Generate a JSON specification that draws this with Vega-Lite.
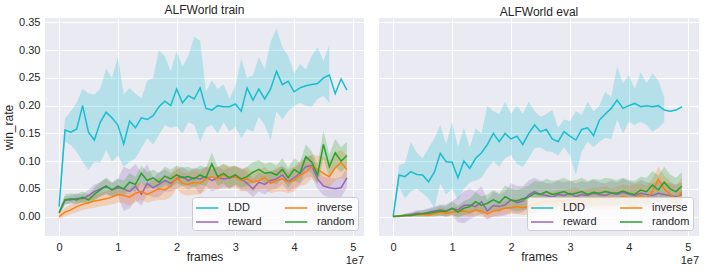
{
"$schema": "https://vega.github.io/schema/vega-lite/v6.json",
"background": "white",
"padding": {"left": 2, "right": 5, "top": 4, "bottom": 2},
"config": {
  "font": "Liberation Sans",
  "view": {"fill": "#EAEAF2", "stroke": null},
  "axis": {"grid": true, "gridColor": "white", "gridWidth": 1, "domain": false, "ticks": false, "labelFontSize": 11, "labelColor": "#262626", "titleFontSize": 12, "titleFontWeight": "normal", "titleColor": "#262626", "labelFlush": false, "labelOverlap": false},
  "axisX": {"tickCount": 6, "labelPadding": 5, "titlePadding": -1},
  "axisY": {"tickCount": 8, "labelPadding": 5, "titlePadding": 3},
  "title": {"fontSize": 12, "fontWeight": "normal", "color": "#262626", "offset": -1},
  "legend": {"labelFontSize": 11, "labelColor": "#262626", "title": null, "orient": "bottom-right", "columns": 2, "symbolType": "M-1,0L2.2,0", "symbolStrokeWidth": 1.5, "symbolSize": 196, "symbolOpacity": 1, "fillColor": "rgba(255,255,255,0.8)", "strokeColor": "#cccccc", "cornerRadius": 3, "padding": 3, "columnPadding": 20, "rowPadding": 1, "offset": 6, "labelOffset": 17}
},
"datasets": {
"train": [
{"method":"LDD","frames":0,"win_rate":0.018,"lo":0.012,"hi":0.025},
{"method":"LDD","frames":1000000,"win_rate":0.156,"lo":0.135,"hi":0.177},
{"method":"LDD","frames":2000000,"win_rate":0.152,"lo":0.129,"hi":0.19},
{"method":"LDD","frames":3000000,"win_rate":0.158,"lo":0.117,"hi":0.205},
{"method":"LDD","frames":4000000,"win_rate":0.2,"lo":0.099,"hi":0.231},
{"method":"LDD","frames":5000000,"win_rate":0.152,"lo":0.084,"hi":0.222},
{"method":"LDD","frames":6000000,"win_rate":0.138,"lo":0.099,"hi":0.22},
{"method":"LDD","frames":7000000,"win_rate":0.17,"lo":0.097,"hi":0.23},
{"method":"LDD","frames":8000000,"win_rate":0.188,"lo":0.12,"hi":0.267},
{"method":"LDD","frames":9000000,"win_rate":0.178,"lo":0.099,"hi":0.25},
{"method":"LDD","frames":10000000,"win_rate":0.165,"lo":0.11,"hi":0.288},
{"method":"LDD","frames":11000000,"win_rate":0.131,"lo":0.09,"hi":0.22},
{"method":"LDD","frames":12000000,"win_rate":0.172,"lo":0.099,"hi":0.232},
{"method":"LDD","frames":13000000,"win_rate":0.16,"lo":0.105,"hi":0.222},
{"method":"LDD","frames":14000000,"win_rate":0.178,"lo":0.123,"hi":0.213},
{"method":"LDD","frames":15000000,"win_rate":0.175,"lo":0.141,"hi":0.245},
{"method":"LDD","frames":16000000,"win_rate":0.182,"lo":0.13,"hi":0.25},
{"method":"LDD","frames":17000000,"win_rate":0.198,"lo":0.147,"hi":0.3},
{"method":"LDD","frames":18000000,"win_rate":0.208,"lo":0.165,"hi":0.289},
{"method":"LDD","frames":19000000,"win_rate":0.2,"lo":0.16,"hi":0.262},
{"method":"LDD","frames":20000000,"win_rate":0.23,"lo":0.163,"hi":0.298},
{"method":"LDD","frames":21000000,"win_rate":0.205,"lo":0.15,"hi":0.27},
{"method":"LDD","frames":22000000,"win_rate":0.218,"lo":0.17,"hi":0.29},
{"method":"LDD","frames":23000000,"win_rate":0.212,"lo":0.165,"hi":0.324},
{"method":"LDD","frames":24000000,"win_rate":0.232,"lo":0.135,"hi":0.317},
{"method":"LDD","frames":25000000,"win_rate":0.195,"lo":0.16,"hi":0.225},
{"method":"LDD","frames":26000000,"win_rate":0.192,"lo":0.165,"hi":0.246},
{"method":"LDD","frames":27000000,"win_rate":0.2,"lo":0.15,"hi":0.23},
{"method":"LDD","frames":28000000,"win_rate":0.198,"lo":0.17,"hi":0.238},
{"method":"LDD","frames":29000000,"win_rate":0.198,"lo":0.153,"hi":0.213},
{"method":"LDD","frames":30000000,"win_rate":0.203,"lo":0.162,"hi":0.235},
{"method":"LDD","frames":31000000,"win_rate":0.19,"lo":0.141,"hi":0.285},
{"method":"LDD","frames":32000000,"win_rate":0.232,"lo":0.158,"hi":0.25},
{"method":"LDD","frames":33000000,"win_rate":0.21,"lo":0.153,"hi":0.255},
{"method":"LDD","frames":34000000,"win_rate":0.23,"lo":0.18,"hi":0.288},
{"method":"LDD","frames":35000000,"win_rate":0.212,"lo":0.165,"hi":0.265},
{"method":"LDD","frames":36000000,"win_rate":0.23,"lo":0.138,"hi":0.315},
{"method":"LDD","frames":37000000,"win_rate":0.262,"lo":0.19,"hi":0.339},
{"method":"LDD","frames":38000000,"win_rate":0.238,"lo":0.175,"hi":0.305},
{"method":"LDD","frames":39000000,"win_rate":0.244,"lo":0.19,"hi":0.29},
{"method":"LDD","frames":40000000,"win_rate":0.225,"lo":0.2,"hi":0.258},
{"method":"LDD","frames":41000000,"win_rate":0.232,"lo":0.205,"hi":0.275},
{"method":"LDD","frames":42000000,"win_rate":0.236,"lo":0.2,"hi":0.265},
{"method":"LDD","frames":43000000,"win_rate":0.238,"lo":0.198,"hi":0.29},
{"method":"LDD","frames":44000000,"win_rate":0.24,"lo":0.212,"hi":0.305},
{"method":"LDD","frames":45000000,"win_rate":0.25,"lo":0.218,"hi":0.28},
{"method":"LDD","frames":46000000,"win_rate":0.255,"lo":0.205,"hi":0.31},
{"method":"LDD","frames":47000000,"win_rate":0.222,"lo":null,"hi":null},
{"method":"LDD","frames":48000000,"win_rate":0.248,"lo":null,"hi":null},
{"method":"LDD","frames":49000000,"win_rate":0.228,"lo":null,"hi":null},
{"method":"reward","frames":0,"win_rate":0.007,"lo":0.003,"hi":0.012},
{"method":"reward","frames":1000000,"win_rate":0.03,"lo":0.022,"hi":0.036},
{"method":"reward","frames":2000000,"win_rate":0.03,"lo":0.024,"hi":0.038},
{"method":"reward","frames":3000000,"win_rate":0.033,"lo":0.026,"hi":0.042},
{"method":"reward","frames":4000000,"win_rate":0.032,"lo":0.025,"hi":0.04},
{"method":"reward","frames":5000000,"win_rate":0.038,"lo":0.028,"hi":0.048},
{"method":"reward","frames":6000000,"win_rate":0.045,"lo":0.03,"hi":0.058},
{"method":"reward","frames":7000000,"win_rate":0.05,"lo":0.036,"hi":0.062},
{"method":"reward","frames":8000000,"win_rate":0.055,"lo":0.04,"hi":0.068},
{"method":"reward","frames":9000000,"win_rate":0.048,"lo":0.035,"hi":0.06},
{"method":"reward","frames":10000000,"win_rate":0.052,"lo":0.036,"hi":0.068},
{"method":"reward","frames":11000000,"win_rate":0.05,"lo":0.01,"hi":0.09},
{"method":"reward","frames":12000000,"win_rate":0.045,"lo":0.015,"hi":0.085},
{"method":"reward","frames":13000000,"win_rate":0.055,"lo":0.03,"hi":0.095},
{"method":"reward","frames":14000000,"win_rate":0.04,"lo":0.02,"hi":0.08},
{"method":"reward","frames":15000000,"win_rate":0.06,"lo":0.04,"hi":0.095},
{"method":"reward","frames":16000000,"win_rate":0.052,"lo":0.035,"hi":0.07},
{"method":"reward","frames":17000000,"win_rate":0.058,"lo":0.035,"hi":0.08},
{"method":"reward","frames":18000000,"win_rate":0.065,"lo":0.045,"hi":0.085},
{"method":"reward","frames":19000000,"win_rate":0.06,"lo":0.045,"hi":0.078},
{"method":"reward","frames":20000000,"win_rate":0.068,"lo":0.05,"hi":0.085},
{"method":"reward","frames":21000000,"win_rate":0.072,"lo":0.055,"hi":0.09},
{"method":"reward","frames":22000000,"win_rate":0.065,"lo":0.048,"hi":0.082},
{"method":"reward","frames":23000000,"win_rate":0.07,"lo":0.055,"hi":0.088},
{"method":"reward","frames":24000000,"win_rate":0.068,"lo":0.04,"hi":0.085},
{"method":"reward","frames":25000000,"win_rate":0.072,"lo":0.055,"hi":0.09},
{"method":"reward","frames":26000000,"win_rate":0.065,"lo":0.045,"hi":0.085},
{"method":"reward","frames":27000000,"win_rate":0.07,"lo":0.05,"hi":0.09},
{"method":"reward","frames":28000000,"win_rate":0.068,"lo":0.05,"hi":0.085},
{"method":"reward","frames":29000000,"win_rate":0.07,"lo":0.052,"hi":0.088},
{"method":"reward","frames":30000000,"win_rate":0.072,"lo":0.055,"hi":0.09},
{"method":"reward","frames":31000000,"win_rate":0.068,"lo":0.048,"hi":0.088},
{"method":"reward","frames":32000000,"win_rate":0.06,"lo":0.045,"hi":0.08},
{"method":"reward","frames":33000000,"win_rate":0.05,"lo":0.035,"hi":0.068},
{"method":"reward","frames":34000000,"win_rate":0.062,"lo":0.045,"hi":0.08},
{"method":"reward","frames":35000000,"win_rate":0.058,"lo":0.04,"hi":0.075},
{"method":"reward","frames":36000000,"win_rate":0.065,"lo":0.048,"hi":0.082},
{"method":"reward","frames":37000000,"win_rate":0.068,"lo":0.05,"hi":0.085},
{"method":"reward","frames":38000000,"win_rate":0.075,"lo":0.058,"hi":0.092},
{"method":"reward","frames":39000000,"win_rate":0.063,"lo":0.045,"hi":0.08},
{"method":"reward","frames":40000000,"win_rate":0.07,"lo":0.05,"hi":0.088},
{"method":"reward","frames":41000000,"win_rate":0.078,"lo":0.058,"hi":0.095},
{"method":"reward","frames":42000000,"win_rate":0.09,"lo":0.07,"hi":0.108},
{"method":"reward","frames":43000000,"win_rate":0.092,"lo":0.072,"hi":0.11},
{"method":"reward","frames":44000000,"win_rate":0.068,"lo":0.05,"hi":0.085},
{"method":"reward","frames":45000000,"win_rate":0.055,"lo":0.038,"hi":0.072},
{"method":"reward","frames":46000000,"win_rate":0.052,"lo":0.035,"hi":0.07},
{"method":"reward","frames":47000000,"win_rate":0.05,"lo":0.032,"hi":0.068},
{"method":"reward","frames":48000000,"win_rate":0.052,"lo":0.035,"hi":0.072},
{"method":"reward","frames":49000000,"win_rate":0.07,"lo":0.052,"hi":0.088},
{"method":"inverse","frames":0,"win_rate":0.0,"lo":-0.004,"hi":0.004},
{"method":"inverse","frames":1000000,"win_rate":0.008,"lo":0.0,"hi":0.016},
{"method":"inverse","frames":2000000,"win_rate":0.012,"lo":0.004,"hi":0.022},
{"method":"inverse","frames":3000000,"win_rate":0.018,"lo":0.008,"hi":0.028},
{"method":"inverse","frames":4000000,"win_rate":0.022,"lo":0.012,"hi":0.032},
{"method":"inverse","frames":5000000,"win_rate":0.025,"lo":0.014,"hi":0.036},
{"method":"inverse","frames":6000000,"win_rate":0.028,"lo":0.016,"hi":0.04},
{"method":"inverse","frames":7000000,"win_rate":0.03,"lo":0.018,"hi":0.042},
{"method":"inverse","frames":8000000,"win_rate":0.032,"lo":0.02,"hi":0.045},
{"method":"inverse","frames":9000000,"win_rate":0.035,"lo":0.022,"hi":0.048},
{"method":"inverse","frames":10000000,"win_rate":0.04,"lo":0.025,"hi":0.055},
{"method":"inverse","frames":11000000,"win_rate":0.038,"lo":0.024,"hi":0.052},
{"method":"inverse","frames":12000000,"win_rate":0.035,"lo":0.02,"hi":0.05},
{"method":"inverse","frames":13000000,"win_rate":0.042,"lo":0.026,"hi":0.058},
{"method":"inverse","frames":14000000,"win_rate":0.045,"lo":0.03,"hi":0.062},
{"method":"inverse","frames":15000000,"win_rate":0.04,"lo":0.025,"hi":0.058},
{"method":"inverse","frames":16000000,"win_rate":0.045,"lo":0.028,"hi":0.065},
{"method":"inverse","frames":17000000,"win_rate":0.05,"lo":0.03,"hi":0.07},
{"method":"inverse","frames":18000000,"win_rate":0.048,"lo":0.03,"hi":0.068},
{"method":"inverse","frames":19000000,"win_rate":0.055,"lo":0.035,"hi":0.075},
{"method":"inverse","frames":20000000,"win_rate":0.07,"lo":0.05,"hi":0.09},
{"method":"inverse","frames":21000000,"win_rate":0.06,"lo":0.04,"hi":0.08},
{"method":"inverse","frames":22000000,"win_rate":0.058,"lo":0.038,"hi":0.078},
{"method":"inverse","frames":23000000,"win_rate":0.062,"lo":0.04,"hi":0.085},
{"method":"inverse","frames":24000000,"win_rate":0.06,"lo":0.04,"hi":0.08},
{"method":"inverse","frames":25000000,"win_rate":0.068,"lo":0.048,"hi":0.09},
{"method":"inverse","frames":26000000,"win_rate":0.072,"lo":0.052,"hi":0.092},
{"method":"inverse","frames":27000000,"win_rate":0.068,"lo":0.048,"hi":0.088},
{"method":"inverse","frames":28000000,"win_rate":0.075,"lo":0.055,"hi":0.095},
{"method":"inverse","frames":29000000,"win_rate":0.07,"lo":0.05,"hi":0.09},
{"method":"inverse","frames":30000000,"win_rate":0.072,"lo":0.052,"hi":0.092},
{"method":"inverse","frames":31000000,"win_rate":0.065,"lo":0.045,"hi":0.085},
{"method":"inverse","frames":32000000,"win_rate":0.068,"lo":0.048,"hi":0.088},
{"method":"inverse","frames":33000000,"win_rate":0.062,"lo":0.045,"hi":0.08},
{"method":"inverse","frames":34000000,"win_rate":0.065,"lo":0.048,"hi":0.085},
{"method":"inverse","frames":35000000,"win_rate":0.07,"lo":0.05,"hi":0.09},
{"method":"inverse","frames":36000000,"win_rate":0.06,"lo":0.042,"hi":0.08},
{"method":"inverse","frames":37000000,"win_rate":0.065,"lo":0.045,"hi":0.088},
{"method":"inverse","frames":38000000,"win_rate":0.068,"lo":0.045,"hi":0.09},
{"method":"inverse","frames":39000000,"win_rate":0.062,"lo":0.042,"hi":0.085},
{"method":"inverse","frames":40000000,"win_rate":0.065,"lo":0.045,"hi":0.09},
{"method":"inverse","frames":41000000,"win_rate":0.075,"lo":0.055,"hi":0.1},
{"method":"inverse","frames":42000000,"win_rate":0.08,"lo":0.058,"hi":0.105},
{"method":"inverse","frames":43000000,"win_rate":0.09,"lo":0.068,"hi":0.112},
{"method":"inverse","frames":44000000,"win_rate":0.085,"lo":0.062,"hi":0.11},
{"method":"inverse","frames":45000000,"win_rate":0.078,"lo":0.058,"hi":0.108},
{"method":"inverse","frames":46000000,"win_rate":0.072,"lo":0.052,"hi":0.1},
{"method":"inverse","frames":47000000,"win_rate":0.088,"lo":0.065,"hi":0.115},
{"method":"inverse","frames":48000000,"win_rate":0.097,"lo":0.07,"hi":0.12},
{"method":"inverse","frames":49000000,"win_rate":0.085,"lo":0.065,"hi":0.11},
{"method":"random","frames":0,"win_rate":0.007,"lo":0.003,"hi":0.012},
{"method":"random","frames":1000000,"win_rate":0.03,"lo":0.022,"hi":0.04},
{"method":"random","frames":2000000,"win_rate":0.032,"lo":0.024,"hi":0.042},
{"method":"random","frames":3000000,"win_rate":0.03,"lo":0.022,"hi":0.04},
{"method":"random","frames":4000000,"win_rate":0.035,"lo":0.026,"hi":0.045},
{"method":"random","frames":5000000,"win_rate":0.03,"lo":0.022,"hi":0.04},
{"method":"random","frames":6000000,"win_rate":0.04,"lo":0.03,"hi":0.052},
{"method":"random","frames":7000000,"win_rate":0.048,"lo":0.036,"hi":0.062},
{"method":"random","frames":8000000,"win_rate":0.055,"lo":0.042,"hi":0.07},
{"method":"random","frames":9000000,"win_rate":0.048,"lo":0.036,"hi":0.062},
{"method":"random","frames":10000000,"win_rate":0.055,"lo":0.042,"hi":0.068},
{"method":"random","frames":11000000,"win_rate":0.05,"lo":0.038,"hi":0.065},
{"method":"random","frames":12000000,"win_rate":0.062,"lo":0.048,"hi":0.078},
{"method":"random","frames":13000000,"win_rate":0.058,"lo":0.045,"hi":0.072},
{"method":"random","frames":14000000,"win_rate":0.078,"lo":0.062,"hi":0.092},
{"method":"random","frames":15000000,"win_rate":0.065,"lo":0.05,"hi":0.08},
{"method":"random","frames":16000000,"win_rate":0.07,"lo":0.055,"hi":0.085},
{"method":"random","frames":17000000,"win_rate":0.062,"lo":0.048,"hi":0.078},
{"method":"random","frames":18000000,"win_rate":0.073,"lo":0.058,"hi":0.09},
{"method":"random","frames":19000000,"win_rate":0.068,"lo":0.052,"hi":0.085},
{"method":"random","frames":20000000,"win_rate":0.075,"lo":0.06,"hi":0.092},
{"method":"random","frames":21000000,"win_rate":0.07,"lo":0.055,"hi":0.088},
{"method":"random","frames":22000000,"win_rate":0.072,"lo":0.056,"hi":0.09},
{"method":"random","frames":23000000,"win_rate":0.068,"lo":0.052,"hi":0.085},
{"method":"random","frames":24000000,"win_rate":0.075,"lo":0.058,"hi":0.092},
{"method":"random","frames":25000000,"win_rate":0.07,"lo":0.055,"hi":0.088},
{"method":"random","frames":26000000,"win_rate":0.095,"lo":0.075,"hi":0.115},
{"method":"random","frames":27000000,"win_rate":0.072,"lo":0.055,"hi":0.09},
{"method":"random","frames":28000000,"win_rate":0.078,"lo":0.06,"hi":0.095},
{"method":"random","frames":29000000,"win_rate":0.07,"lo":0.05,"hi":0.09},
{"method":"random","frames":30000000,"win_rate":0.075,"lo":0.058,"hi":0.092},
{"method":"random","frames":31000000,"win_rate":0.068,"lo":0.052,"hi":0.085},
{"method":"random","frames":32000000,"win_rate":0.072,"lo":0.055,"hi":0.09},
{"method":"random","frames":33000000,"win_rate":0.08,"lo":0.062,"hi":0.098},
{"method":"random","frames":34000000,"win_rate":0.085,"lo":0.068,"hi":0.102},
{"method":"random","frames":35000000,"win_rate":0.078,"lo":0.06,"hi":0.095},
{"method":"random","frames":36000000,"win_rate":0.08,"lo":0.062,"hi":0.098},
{"method":"random","frames":37000000,"win_rate":0.075,"lo":0.058,"hi":0.092},
{"method":"random","frames":38000000,"win_rate":0.085,"lo":0.068,"hi":0.105},
{"method":"random","frames":39000000,"win_rate":0.07,"lo":0.052,"hi":0.088},
{"method":"random","frames":40000000,"win_rate":0.085,"lo":0.065,"hi":0.105},
{"method":"random","frames":41000000,"win_rate":0.078,"lo":0.06,"hi":0.098},
{"method":"random","frames":42000000,"win_rate":0.108,"lo":0.085,"hi":0.13},
{"method":"random","frames":43000000,"win_rate":0.098,"lo":0.078,"hi":0.118},
{"method":"random","frames":44000000,"win_rate":0.075,"lo":0.058,"hi":0.095},
{"method":"random","frames":45000000,"win_rate":0.13,"lo":0.105,"hi":0.155},
{"method":"random","frames":46000000,"win_rate":0.09,"lo":0.07,"hi":0.112},
{"method":"random","frames":47000000,"win_rate":0.115,"lo":0.09,"hi":0.14},
{"method":"random","frames":48000000,"win_rate":0.1,"lo":0.08,"hi":0.125},
{"method":"random","frames":49000000,"win_rate":0.11,"lo":0.09,"hi":0.135}
],
"eval": [
{"method":"LDD","frames":0,"win_rate":0.0,"lo":0.0,"hi":0.0},
{"method":"LDD","frames":1000000,"win_rate":0.075,"lo":0.054,"hi":0.093},
{"method":"LDD","frames":2000000,"win_rate":0.072,"lo":0.033,"hi":0.096},
{"method":"LDD","frames":3000000,"win_rate":0.081,"lo":0.045,"hi":0.135},
{"method":"LDD","frames":4000000,"win_rate":0.076,"lo":0.05,"hi":0.115},
{"method":"LDD","frames":5000000,"win_rate":0.075,"lo":0.042,"hi":0.105},
{"method":"LDD","frames":6000000,"win_rate":0.063,"lo":0.033,"hi":0.123},
{"method":"LDD","frames":7000000,"win_rate":0.08,"lo":0.015,"hi":0.141},
{"method":"LDD","frames":8000000,"win_rate":0.114,"lo":0.06,"hi":0.165},
{"method":"LDD","frames":9000000,"win_rate":0.099,"lo":0.04,"hi":0.13},
{"method":"LDD","frames":10000000,"win_rate":0.098,"lo":0.05,"hi":0.171},
{"method":"LDD","frames":11000000,"win_rate":0.07,"lo":0.03,"hi":0.125},
{"method":"LDD","frames":12000000,"win_rate":0.1,"lo":0.05,"hi":0.16},
{"method":"LDD","frames":13000000,"win_rate":0.087,"lo":0.062,"hi":0.125},
{"method":"LDD","frames":14000000,"win_rate":0.105,"lo":0.065,"hi":0.159},
{"method":"LDD","frames":15000000,"win_rate":0.115,"lo":0.07,"hi":0.15},
{"method":"LDD","frames":16000000,"win_rate":0.13,"lo":0.087,"hi":0.2},
{"method":"LDD","frames":17000000,"win_rate":0.15,"lo":0.1,"hi":0.19},
{"method":"LDD","frames":18000000,"win_rate":0.135,"lo":0.09,"hi":0.185},
{"method":"LDD","frames":19000000,"win_rate":0.15,"lo":0.105,"hi":0.207},
{"method":"LDD","frames":20000000,"win_rate":0.14,"lo":0.111,"hi":0.185},
{"method":"LDD","frames":21000000,"win_rate":0.145,"lo":0.095,"hi":0.2},
{"method":"LDD","frames":22000000,"win_rate":0.13,"lo":0.09,"hi":0.185},
{"method":"LDD","frames":23000000,"win_rate":0.15,"lo":0.105,"hi":0.207},
{"method":"LDD","frames":24000000,"win_rate":0.165,"lo":0.123,"hi":0.19},
{"method":"LDD","frames":25000000,"win_rate":0.153,"lo":0.125,"hi":0.18},
{"method":"LDD","frames":26000000,"win_rate":0.157,"lo":0.118,"hi":0.185},
{"method":"LDD","frames":27000000,"win_rate":0.14,"lo":0.117,"hi":0.192},
{"method":"LDD","frames":28000000,"win_rate":0.135,"lo":0.11,"hi":0.16},
{"method":"LDD","frames":29000000,"win_rate":0.153,"lo":0.125,"hi":0.175},
{"method":"LDD","frames":30000000,"win_rate":0.145,"lo":0.11,"hi":0.172},
{"method":"LDD","frames":31000000,"win_rate":0.138,"lo":0.075,"hi":0.19},
{"method":"LDD","frames":32000000,"win_rate":0.157,"lo":0.118,"hi":0.183},
{"method":"LDD","frames":33000000,"win_rate":0.16,"lo":0.135,"hi":0.207},
{"method":"LDD","frames":34000000,"win_rate":0.146,"lo":0.125,"hi":0.19},
{"method":"LDD","frames":35000000,"win_rate":0.174,"lo":0.135,"hi":0.2},
{"method":"LDD","frames":36000000,"win_rate":0.185,"lo":0.142,"hi":0.225},
{"method":"LDD","frames":37000000,"win_rate":0.195,"lo":0.14,"hi":0.215},
{"method":"LDD","frames":38000000,"win_rate":0.21,"lo":0.175,"hi":0.27},
{"method":"LDD","frames":39000000,"win_rate":0.195,"lo":0.15,"hi":0.24},
{"method":"LDD","frames":40000000,"win_rate":0.2,"lo":0.171,"hi":0.255},
{"method":"LDD","frames":41000000,"win_rate":0.204,"lo":0.165,"hi":0.23},
{"method":"LDD","frames":42000000,"win_rate":0.198,"lo":0.171,"hi":0.26},
{"method":"LDD","frames":43000000,"win_rate":0.2,"lo":0.165,"hi":0.24},
{"method":"LDD","frames":44000000,"win_rate":0.198,"lo":0.153,"hi":0.258},
{"method":"LDD","frames":45000000,"win_rate":0.2,"lo":0.16,"hi":0.245},
{"method":"LDD","frames":46000000,"win_rate":0.192,"lo":0.17,"hi":0.215},
{"method":"LDD","frames":47000000,"win_rate":0.19,"lo":null,"hi":null},
{"method":"LDD","frames":48000000,"win_rate":0.192,"lo":null,"hi":null},
{"method":"LDD","frames":49000000,"win_rate":0.198,"lo":null,"hi":null},
{"method":"reward","frames":0,"win_rate":0.0,"lo":0.0,"hi":0.0},
{"method":"reward","frames":1000000,"win_rate":0.0,"lo":0.0,"hi":0.002},
{"method":"reward","frames":2000000,"win_rate":0.002,"lo":0.0,"hi":0.005},
{"method":"reward","frames":3000000,"win_rate":0.004,"lo":0.0,"hi":0.008},
{"method":"reward","frames":4000000,"win_rate":0.006,"lo":0.0,"hi":0.012},
{"method":"reward","frames":5000000,"win_rate":0.005,"lo":0.0,"hi":0.012},
{"method":"reward","frames":6000000,"win_rate":0.008,"lo":0.0,"hi":0.015},
{"method":"reward","frames":7000000,"win_rate":0.01,"lo":0.002,"hi":0.018},
{"method":"reward","frames":8000000,"win_rate":0.012,"lo":0.002,"hi":0.022},
{"method":"reward","frames":9000000,"win_rate":0.01,"lo":0.0,"hi":0.022},
{"method":"reward","frames":10000000,"win_rate":0.015,"lo":0.002,"hi":0.028},
{"method":"reward","frames":11000000,"win_rate":0.012,"lo":-0.01,"hi":0.035},
{"method":"reward","frames":12000000,"win_rate":0.02,"lo":-0.012,"hi":0.045},
{"method":"reward","frames":13000000,"win_rate":0.021,"lo":-0.005,"hi":0.05},
{"method":"reward","frames":14000000,"win_rate":0.018,"lo":0.0,"hi":0.045},
{"method":"reward","frames":15000000,"win_rate":0.027,"lo":0.005,"hi":0.055},
{"method":"reward","frames":16000000,"win_rate":0.01,"lo":-0.005,"hi":0.03},
{"method":"reward","frames":17000000,"win_rate":0.02,"lo":0.0,"hi":0.045},
{"method":"reward","frames":18000000,"win_rate":0.018,"lo":0.0,"hi":0.04},
{"method":"reward","frames":19000000,"win_rate":0.021,"lo":0.002,"hi":0.045},
{"method":"reward","frames":20000000,"win_rate":0.03,"lo":0.008,"hi":0.06},
{"method":"reward","frames":21000000,"win_rate":0.025,"lo":0.005,"hi":0.055},
{"method":"reward","frames":22000000,"win_rate":0.028,"lo":0.008,"hi":0.055},
{"method":"reward","frames":23000000,"win_rate":0.039,"lo":0.015,"hi":0.065},
{"method":"reward","frames":24000000,"win_rate":0.045,"lo":0.02,"hi":0.07},
{"method":"reward","frames":25000000,"win_rate":0.04,"lo":0.018,"hi":0.065},
{"method":"reward","frames":26000000,"win_rate":0.038,"lo":0.015,"hi":0.06},
{"method":"reward","frames":27000000,"win_rate":0.035,"lo":0.012,"hi":0.06},
{"method":"reward","frames":28000000,"win_rate":0.04,"lo":0.018,"hi":0.065},
{"method":"reward","frames":29000000,"win_rate":0.038,"lo":0.015,"hi":0.062},
{"method":"reward","frames":30000000,"win_rate":0.042,"lo":0.02,"hi":0.065},
{"method":"reward","frames":31000000,"win_rate":0.036,"lo":0.012,"hi":0.06},
{"method":"reward","frames":32000000,"win_rate":0.04,"lo":0.018,"hi":0.064},
{"method":"reward","frames":33000000,"win_rate":0.038,"lo":0.015,"hi":0.062},
{"method":"reward","frames":34000000,"win_rate":0.042,"lo":0.02,"hi":0.066},
{"method":"reward","frames":35000000,"win_rate":0.04,"lo":0.018,"hi":0.062},
{"method":"reward","frames":36000000,"win_rate":0.038,"lo":0.016,"hi":0.06},
{"method":"reward","frames":37000000,"win_rate":0.042,"lo":0.02,"hi":0.065},
{"method":"reward","frames":38000000,"win_rate":0.04,"lo":0.018,"hi":0.062},
{"method":"reward","frames":39000000,"win_rate":0.044,"lo":0.022,"hi":0.068},
{"method":"reward","frames":40000000,"win_rate":0.04,"lo":0.018,"hi":0.064},
{"method":"reward","frames":41000000,"win_rate":0.038,"lo":0.016,"hi":0.06},
{"method":"reward","frames":42000000,"win_rate":0.042,"lo":0.02,"hi":0.066},
{"method":"reward","frames":43000000,"win_rate":0.04,"lo":0.018,"hi":0.062},
{"method":"reward","frames":44000000,"win_rate":0.038,"lo":0.016,"hi":0.06},
{"method":"reward","frames":45000000,"win_rate":0.042,"lo":0.02,"hi":0.066},
{"method":"reward","frames":46000000,"win_rate":0.04,"lo":0.018,"hi":0.062},
{"method":"reward","frames":47000000,"win_rate":0.038,"lo":0.016,"hi":0.06},
{"method":"reward","frames":48000000,"win_rate":0.036,"lo":0.015,"hi":0.058},
{"method":"reward","frames":49000000,"win_rate":0.04,"lo":0.018,"hi":0.062},
{"method":"inverse","frames":0,"win_rate":0.0,"lo":0.0,"hi":0.0},
{"method":"inverse","frames":1000000,"win_rate":0.001,"lo":0.0,"hi":0.003},
{"method":"inverse","frames":2000000,"win_rate":0.002,"lo":0.0,"hi":0.004},
{"method":"inverse","frames":3000000,"win_rate":0.002,"lo":0.0,"hi":0.005},
{"method":"inverse","frames":4000000,"win_rate":0.003,"lo":0.0,"hi":0.007},
{"method":"inverse","frames":5000000,"win_rate":0.004,"lo":0.0,"hi":0.009},
{"method":"inverse","frames":6000000,"win_rate":0.003,"lo":0.0,"hi":0.008},
{"method":"inverse","frames":7000000,"win_rate":0.005,"lo":0.0,"hi":0.011},
{"method":"inverse","frames":8000000,"win_rate":0.008,"lo":0.001,"hi":0.016},
{"method":"inverse","frames":9000000,"win_rate":0.006,"lo":0.0,"hi":0.014},
{"method":"inverse","frames":10000000,"win_rate":0.008,"lo":0.001,"hi":0.016},
{"method":"inverse","frames":11000000,"win_rate":0.009,"lo":0.001,"hi":0.018},
{"method":"inverse","frames":12000000,"win_rate":0.01,"lo":0.002,"hi":0.02},
{"method":"inverse","frames":13000000,"win_rate":0.008,"lo":0.0,"hi":0.018},
{"method":"inverse","frames":14000000,"win_rate":0.012,"lo":0.002,"hi":0.024},
{"method":"inverse","frames":15000000,"win_rate":0.01,"lo":0.0,"hi":0.022},
{"method":"inverse","frames":16000000,"win_rate":0.005,"lo":-0.004,"hi":0.016},
{"method":"inverse","frames":17000000,"win_rate":0.01,"lo":0.0,"hi":0.022},
{"method":"inverse","frames":18000000,"win_rate":0.012,"lo":0.002,"hi":0.025},
{"method":"inverse","frames":19000000,"win_rate":0.015,"lo":0.004,"hi":0.028},
{"method":"inverse","frames":20000000,"win_rate":0.016,"lo":0.004,"hi":0.03},
{"method":"inverse","frames":21000000,"win_rate":0.018,"lo":0.005,"hi":0.032},
{"method":"inverse","frames":22000000,"win_rate":0.016,"lo":0.003,"hi":0.03},
{"method":"inverse","frames":23000000,"win_rate":0.018,"lo":0.004,"hi":0.034},
{"method":"inverse","frames":24000000,"win_rate":0.021,"lo":0.006,"hi":0.037},
{"method":"inverse","frames":25000000,"win_rate":0.025,"lo":0.008,"hi":0.042},
{"method":"inverse","frames":26000000,"win_rate":0.028,"lo":0.01,"hi":0.046},
{"method":"inverse","frames":27000000,"win_rate":0.026,"lo":0.008,"hi":0.044},
{"method":"inverse","frames":28000000,"win_rate":0.03,"lo":0.012,"hi":0.048},
{"method":"inverse","frames":29000000,"win_rate":0.028,"lo":0.01,"hi":0.046},
{"method":"inverse","frames":30000000,"win_rate":0.03,"lo":0.012,"hi":0.05},
{"method":"inverse","frames":31000000,"win_rate":0.032,"lo":0.012,"hi":0.052},
{"method":"inverse","frames":32000000,"win_rate":0.029,"lo":0.01,"hi":0.048},
{"method":"inverse","frames":33000000,"win_rate":0.031,"lo":0.012,"hi":0.05},
{"method":"inverse","frames":34000000,"win_rate":0.033,"lo":0.014,"hi":0.052},
{"method":"inverse","frames":35000000,"win_rate":0.032,"lo":0.012,"hi":0.052},
{"method":"inverse","frames":36000000,"win_rate":0.034,"lo":0.014,"hi":0.055},
{"method":"inverse","frames":37000000,"win_rate":0.031,"lo":0.012,"hi":0.05},
{"method":"inverse","frames":38000000,"win_rate":0.033,"lo":0.013,"hi":0.054},
{"method":"inverse","frames":39000000,"win_rate":0.036,"lo":0.015,"hi":0.058},
{"method":"inverse","frames":40000000,"win_rate":0.034,"lo":0.014,"hi":0.056},
{"method":"inverse","frames":41000000,"win_rate":0.035,"lo":0.015,"hi":0.058},
{"method":"inverse","frames":42000000,"win_rate":0.038,"lo":0.016,"hi":0.06},
{"method":"inverse","frames":43000000,"win_rate":0.032,"lo":0.012,"hi":0.055},
{"method":"inverse","frames":44000000,"win_rate":0.045,"lo":0.022,"hi":0.068},
{"method":"inverse","frames":45000000,"win_rate":0.067,"lo":0.04,"hi":0.09},
{"method":"inverse","frames":46000000,"win_rate":0.05,"lo":0.028,"hi":0.074},
{"method":"inverse","frames":47000000,"win_rate":0.04,"lo":0.018,"hi":0.064},
{"method":"inverse","frames":48000000,"win_rate":0.032,"lo":0.012,"hi":0.055},
{"method":"inverse","frames":49000000,"win_rate":0.045,"lo":0.022,"hi":0.07},
{"method":"random","frames":0,"win_rate":0.0,"lo":0.0,"hi":0.0},
{"method":"random","frames":1000000,"win_rate":0.001,"lo":0.0,"hi":0.003},
{"method":"random","frames":2000000,"win_rate":0.002,"lo":0.0,"hi":0.005},
{"method":"random","frames":3000000,"win_rate":0.002,"lo":0.0,"hi":0.006},
{"method":"random","frames":4000000,"win_rate":0.004,"lo":0.0,"hi":0.009},
{"method":"random","frames":5000000,"win_rate":0.005,"lo":0.0,"hi":0.011},
{"method":"random","frames":6000000,"win_rate":0.006,"lo":0.0,"hi":0.013},
{"method":"random","frames":7000000,"win_rate":0.008,"lo":0.0,"hi":0.016},
{"method":"random","frames":8000000,"win_rate":0.01,"lo":0.002,"hi":0.02},
{"method":"random","frames":9000000,"win_rate":0.009,"lo":0.0,"hi":0.019},
{"method":"random","frames":10000000,"win_rate":0.015,"lo":0.004,"hi":0.027},
{"method":"random","frames":11000000,"win_rate":0.008,"lo":-0.002,"hi":0.02},
{"method":"random","frames":12000000,"win_rate":0.015,"lo":0.003,"hi":0.028},
{"method":"random","frames":13000000,"win_rate":0.018,"lo":0.004,"hi":0.032},
{"method":"random","frames":14000000,"win_rate":0.027,"lo":0.01,"hi":0.044},
{"method":"random","frames":15000000,"win_rate":0.02,"lo":0.004,"hi":0.036},
{"method":"random","frames":16000000,"win_rate":0.024,"lo":0.008,"hi":0.04},
{"method":"random","frames":17000000,"win_rate":0.03,"lo":0.012,"hi":0.048},
{"method":"random","frames":18000000,"win_rate":0.025,"lo":0.008,"hi":0.042},
{"method":"random","frames":19000000,"win_rate":0.036,"lo":0.016,"hi":0.056},
{"method":"random","frames":20000000,"win_rate":0.03,"lo":0.012,"hi":0.05},
{"method":"random","frames":21000000,"win_rate":0.028,"lo":0.01,"hi":0.048},
{"method":"random","frames":22000000,"win_rate":0.032,"lo":0.012,"hi":0.052},
{"method":"random","frames":23000000,"win_rate":0.035,"lo":0.014,"hi":0.056},
{"method":"random","frames":24000000,"win_rate":0.042,"lo":0.02,"hi":0.064},
{"method":"random","frames":25000000,"win_rate":0.04,"lo":0.018,"hi":0.062},
{"method":"random","frames":26000000,"win_rate":0.045,"lo":0.022,"hi":0.068},
{"method":"random","frames":27000000,"win_rate":0.04,"lo":0.018,"hi":0.064},
{"method":"random","frames":28000000,"win_rate":0.042,"lo":0.02,"hi":0.066},
{"method":"random","frames":29000000,"win_rate":0.045,"lo":0.022,"hi":0.07},
{"method":"random","frames":30000000,"win_rate":0.04,"lo":0.018,"hi":0.064},
{"method":"random","frames":31000000,"win_rate":0.042,"lo":0.02,"hi":0.066},
{"method":"random","frames":32000000,"win_rate":0.045,"lo":0.022,"hi":0.07},
{"method":"random","frames":33000000,"win_rate":0.04,"lo":0.018,"hi":0.064},
{"method":"random","frames":34000000,"win_rate":0.044,"lo":0.02,"hi":0.068},
{"method":"random","frames":35000000,"win_rate":0.042,"lo":0.02,"hi":0.066},
{"method":"random","frames":36000000,"win_rate":0.045,"lo":0.022,"hi":0.07},
{"method":"random","frames":37000000,"win_rate":0.043,"lo":0.02,"hi":0.068},
{"method":"random","frames":38000000,"win_rate":0.042,"lo":0.02,"hi":0.066},
{"method":"random","frames":39000000,"win_rate":0.046,"lo":0.022,"hi":0.07},
{"method":"random","frames":40000000,"win_rate":0.042,"lo":0.02,"hi":0.066},
{"method":"random","frames":41000000,"win_rate":0.04,"lo":0.018,"hi":0.064},
{"method":"random","frames":42000000,"win_rate":0.048,"lo":0.025,"hi":0.072},
{"method":"random","frames":43000000,"win_rate":0.045,"lo":0.022,"hi":0.07},
{"method":"random","frames":44000000,"win_rate":0.057,"lo":0.032,"hi":0.082},
{"method":"random","frames":45000000,"win_rate":0.048,"lo":0.025,"hi":0.074},
{"method":"random","frames":46000000,"win_rate":0.062,"lo":0.036,"hi":0.09},
{"method":"random","frames":47000000,"win_rate":0.05,"lo":0.026,"hi":0.076},
{"method":"random","frames":48000000,"win_rate":0.045,"lo":0.022,"hi":0.07},
{"method":"random","frames":49000000,"win_rate":0.055,"lo":0.03,"hi":0.08}
]
},
"spacing": 15,
"resolve": {"scale": {"x": "independent", "y": "independent", "color": "independent"}, "legend": {"color": "independent"}},
"hconcat": [
{
  "width": 319, "height": 218,
  "title": "ALFWorld train",
  "layer": [
    {"data": {"name": "train"},
     "mark": {"type": "area", "opacity": 0.25},
     "encoding": {
       "x": {"field": "frames", "type": "quantitative", "scale": {"domain": [-2400000, 51900000], "nice": false, "zero": false}, "axis": {"title": "frames", "labelExpr": "format(datum.value/10000000, 'd')"}},
       "y": {"field": "lo", "type": "quantitative", "scale": {"domain": [-0.035, 0.358], "nice": false, "zero": false}, "axis": {"title": "win_rate", "format": ".2f"}},
       "y2": {"field": "hi"},
       "color": {"field": "method", "type": "nominal", "scale": {"domain": ["LDD", "reward", "inverse", "random"], "range": ["#17becf", "#9467bd", "#ff7f0e", "#2ca02c"]}}
     }},
    {"data": {"name": "train"},
     "mark": {"type": "line", "strokeWidth": 1.5},
     "encoding": {
       "x": {"field": "frames", "type": "quantitative", "axis": {"title": "frames", "labelExpr": "format(datum.value/10000000, 'd')"}},
       "y": {"field": "win_rate", "type": "quantitative", "axis": {"title": "win_rate", "format": ".2f"}},
       "color": {"field": "method", "type": "nominal", "scale": {"domain": ["LDD", "reward", "inverse", "random"], "range": ["#17becf", "#9467bd", "#ff7f0e", "#2ca02c"]}}
     }},
    {"data": {"values": [{"label": "1e7"}]},
     "mark": {"type": "text", "align": "right", "baseline": "middle", "dy": 25, "fontSize": 11, "color": "#262626"},
     "encoding": {"text": {"field": "label"}, "x": {"datum": 51900000, "type": "quantitative", "axis": {"title": "frames", "labelExpr": "format(datum.value/10000000, 'd')"}}, "y": {"datum": -0.035, "type": "quantitative", "axis": {"title": "win_rate", "format": ".2f"}}}}
  ]
},
{
  "width": 320, "height": 218,
  "title": "ALFWorld eval",
  "layer": [
    {"data": {"name": "eval"},
     "mark": {"type": "area", "opacity": 0.25},
     "encoding": {
       "x": {"field": "frames", "type": "quantitative", "scale": {"domain": [-2400000, 51900000], "nice": false, "zero": false}, "axis": {"title": "frames", "labelExpr": "format(datum.value/10000000, 'd')"}},
       "y": {"field": "lo", "type": "quantitative", "scale": {"domain": [-0.035, 0.358], "nice": false, "zero": false}, "axis": {"title": null, "labels": false}},
       "y2": {"field": "hi"},
       "color": {"field": "method", "type": "nominal", "scale": {"domain": ["LDD", "reward", "inverse", "random"], "range": ["#17becf", "#9467bd", "#ff7f0e", "#2ca02c"]}}
     }},
    {"data": {"name": "eval"},
     "mark": {"type": "line", "strokeWidth": 1.5},
     "encoding": {
       "x": {"field": "frames", "type": "quantitative", "axis": {"title": "frames", "labelExpr": "format(datum.value/10000000, 'd')"}},
       "y": {"field": "win_rate", "type": "quantitative", "axis": {"title": null, "labels": false}},
       "color": {"field": "method", "type": "nominal", "scale": {"domain": ["LDD", "reward", "inverse", "random"], "range": ["#17becf", "#9467bd", "#ff7f0e", "#2ca02c"]}}
     }},
    {"data": {"values": [{"label": "1e7"}]},
     "mark": {"type": "text", "align": "right", "baseline": "middle", "dy": 25, "fontSize": 11, "color": "#262626"},
     "encoding": {"text": {"field": "label"}, "x": {"datum": 51900000, "type": "quantitative", "axis": {"title": "frames", "labelExpr": "format(datum.value/10000000, 'd')"}}, "y": {"datum": -0.035, "type": "quantitative", "axis": {"title": null, "labels": false}}}}
  ]
}
]
}
